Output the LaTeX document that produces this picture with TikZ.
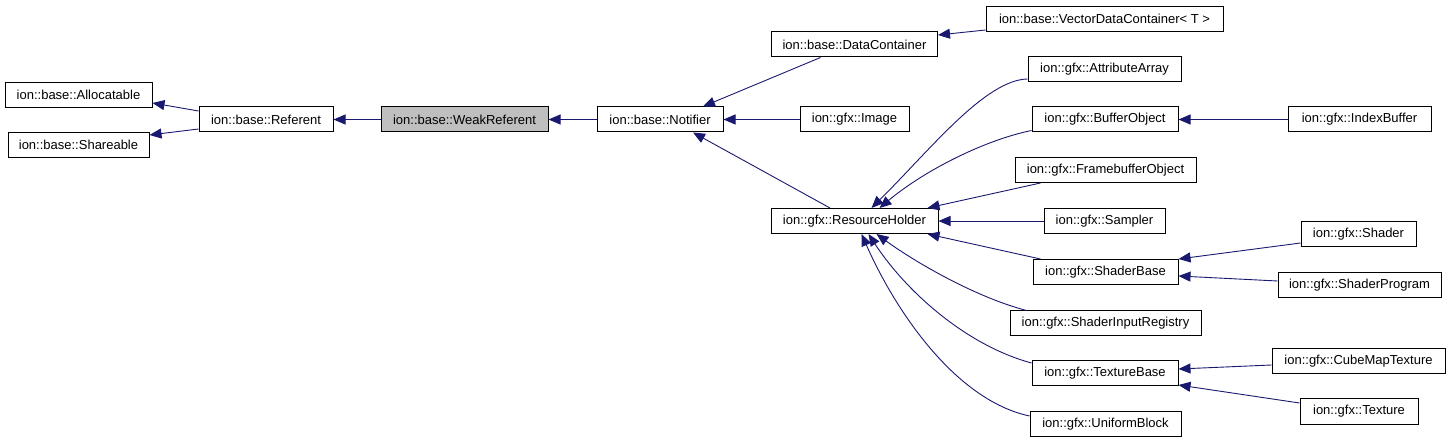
\documentclass[tikz,border=0pt]{standalone}
\usepackage{fontspec}
\setmainfont{Liberation Sans}
\usetikzlibrary{arrows.meta}
\definecolor{midblue}{RGB}{25,25,112}
\definecolor{selgray}{RGB}{191,191,191}
\tikzset{cbox/.style={
    rectangle,
    draw,
    line width=1pt,
    fill=white,
    align=center,
    inner sep=0pt,
    minimum height=25pt,
    font=\fontsize{13}{15}\selectfont
  },
  selbox/.style={cbox,fill=selgray},
  inh/.style={draw=midblue,line width=0.9pt,-{Triangle[length=12pt,width=10pt]}},
}

\begin{document}
\begin{tikzpicture}[x=1pt,y=-1pt]
  \useasboundingbox (0,0) rectangle (1451,443);
  % base classes
  \node [cbox,minimum width=147pt] (alloc) at (78.5,95) {ion::base::Allocatable};
  \node [cbox,minimum width=141pt] (share) at (78.5,145) {ion::base::Shareable};
  \node [cbox,minimum width=134pt] (refer) at (266,119.5) {ion::base::Referent};
  \node [selbox,minimum width=167pt] (weak) at (464.5,119.5) {ion::base::WeakReferent};
  \node [cbox,minimum width=126pt] (notif) at (660,119.5) {ion::base::Notifier};
  % notifier children
  \node [cbox,minimum width=166pt] (datac) at (854.5,44.5) {ion::base::DataContainer};
  \node [cbox,minimum width=109pt] (image) at (854.5,119.5) {ion::gfx::Image};
  \node [cbox,minimum width=167pt] (resh) at (854.5,221) {ion::gfx::ResourceHolder};
  % resource holders
  \node [cbox,minimum width=237pt] (vdc) at (1104.5,19) {ion::base::VectorDataContainer< T >};
  \node [cbox,minimum width=153pt] (attr) at (1104.5,69.5) {ion::gfx::AttributeArray};
  \node [cbox,minimum width=146pt] (buffer) at (1105,119.5) {ion::gfx::BufferObject};
  \node [cbox,minimum width=181pt] (frame) at (1105.5,170) {ion::gfx::FramebufferObject};
  \node [cbox,minimum width=121pt] (sampler) at (1104.5,221) {ion::gfx::Sampler};
  \node [cbox,minimum width=145pt] (sbase) at (1105.5,272) {ion::gfx::ShaderBase};
  \node [cbox,minimum width=191pt] (sinreg) at (1105.5,323.5) {ion::gfx::ShaderInputRegistry};
  \node [cbox,minimum width=146pt] (tbase) at (1105,373) {ion::gfx::TextureBase};
  \node [cbox,minimum width=151pt] (uniform) at (1105.5,424) {ion::gfx::UniformBlock};
  % leaves
  \node [cbox,minimum width=143pt] (index) at (1359.5,119.5) {ion::gfx::IndexBuffer};
  \node [cbox,minimum width=115pt] (shader) at (1358.5,234.5) {ion::gfx::Shader};
  \node [cbox,minimum width=163pt] (sprog) at (1359.5,285.5) {ion::gfx::ShaderProgram};
  \node [cbox,minimum width=173pt] (cube) at (1358.5,361.5) {ion::gfx::CubeMapTexture};
  \node [cbox,minimum width=118pt] (texture) at (1359,411.5) {ion::gfx::Texture};

  \draw[inh] ([yshift=8.5pt]refer.west) -- ([yshift=-8pt]alloc.east);
  \draw[inh] ([yshift=-9.5pt]refer.west) -- ([yshift=10pt]share.east);
  \draw[inh] (weak) -- (refer);
  \draw[inh] (notif) -- (weak);
  \draw[inh] ([xshift=-34pt]datac.south) -- ([xshift=43pt]notif.north);
  \draw[inh] (image) -- (notif);
  \draw[inh] ([xshift=-24.5pt]resh.north) -- ([xshift=33pt]notif.south);
  \draw[inh] ([yshift=-11pt]vdc.west) -- ([yshift=9.5pt]datac.east);
  \draw[inh] ([yshift=-9.5pt]attr.west) .. controls (985,80) and (930,150) .. ([xshift=17pt]resh.north);
  \draw[inh] ([yshift=-11pt]buffer.west) .. controls (985,140) and (925,170) .. ([xshift=25pt]resh.north);
  \draw[inh] ([xshift=26pt]frame.south west) -- ([xshift=-11pt]resh.north east);
  \draw[inh] (sampler) -- (resh);
  \draw[inh] ([xshift=8pt]sbase.north west) -- ([xshift=-11pt]resh.south east);
  \draw[inh] ([xshift=17pt]sinreg.north west) .. controls (975,297) and (915,262) .. ([xshift=22pt]resh.south);
  \draw[inh] ([yshift=10pt]tbase.west) .. controls (965,345) and (905,290) .. ([xshift=14pt]resh.south);
  \draw[inh] ([yshift=8pt]uniform.west) .. controls (955,400) and (895,310) .. ([xshift=7pt]resh.south);
  \draw[inh] (index) -- (buffer);
  \draw[inh] ([yshift=-8.5pt]shader.west) -- (sbase.north east);
  \draw[inh] ([yshift=4.5pt]sprog.west) -- ([yshift=-4pt]sbase.east);
  \draw[inh] ([yshift=-3.5pt]cube.west) -- ([yshift=4pt]tbase.east);
  \draw[inh] ([yshift=8.5pt]texture.west) -- ([yshift=-12pt]tbase.east);
\end{tikzpicture}
\end{document}
